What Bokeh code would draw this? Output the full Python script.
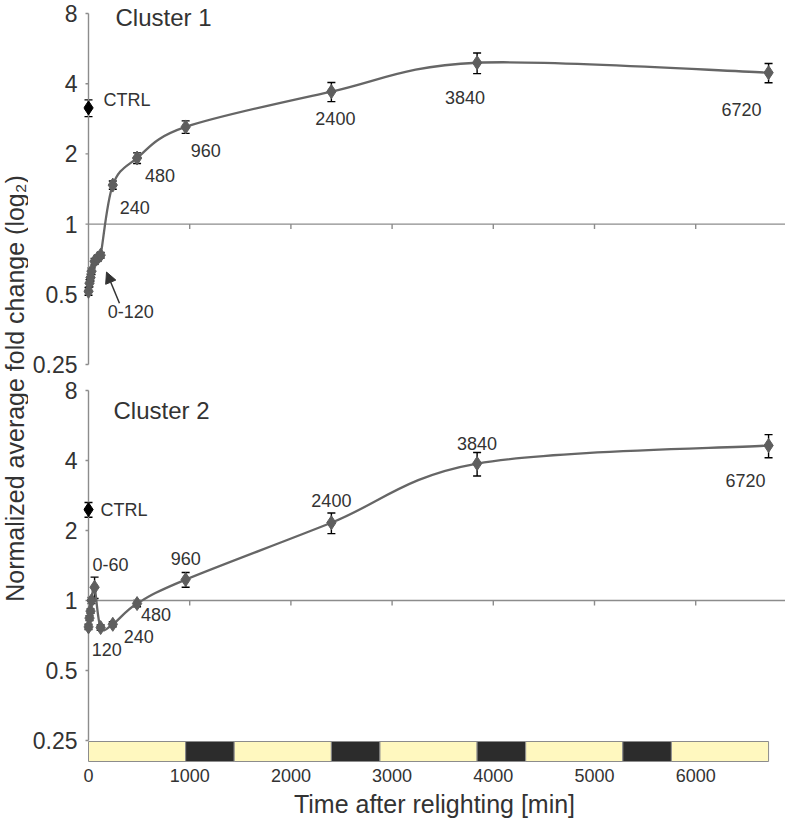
import math
from bokeh.plotting import figure
from bokeh.layouts import row, column
from bokeh.models import (Range1d, FixedTicker, CustomJSTickFormatter, Whisker, TeeHead,
                          ColumnDataSource, Arrow, NormalHead, LinearScale)
from bokeh.core.properties import value
from bokeh.embed import file_html
from bokeh.resources import INLINE

# ---------------- data ----------------
y_ticks = [0.25, 0.5, 1, 2, 4, 8]
x_ticks = [0, 1000, 2000, 3000, 4000, 5000, 6000]

c1_time = [0, 10, 20, 30, 60, 90, 120, 240, 480, 960, 2400, 3840, 6720]
c1_fold = [0.515, 0.558, 0.59, 0.628, 0.693, 0.714, 0.736, 1.47, 1.92, 2.61, 3.70, 4.92, 4.46]
c1_err = [0.02, 0.02, 0.02, 0.02, 0.02, 0.02, 0.02, 0.06, 0.10, 0.16, 0.35, 0.50, 0.42]
c1_ctrl = 3.15
c1_ctrl_err = 0.26

c2_time = [0, 10, 20, 30, 60, 120, 240, 480, 960, 2400, 3840, 6720]
c2_fold = [0.77, 0.84, 0.90, 1.00, 1.14, 0.765, 0.79, 0.97, 1.23, 2.16, 3.88, 4.64]
c2_err = [0.02, 0.02, 0.02, 0.03, 0.12, 0.02, 0.02, 0.03, 0.09, 0.22, 0.45, 0.53]
c2_ctrl = 2.46
c2_ctrl_err = 0.18

phase_start = [0, 960, 1440, 2400, 2880, 3840, 4320, 5280, 5760]
phase_end = [960, 1440, 2400, 2880, 3840, 4320, 5280, 5760, 6720]
phase_kind = ["light", "dark", "light", "dark", "light", "dark", "light", "dark", "light"]

c1_label_times = [240, 480, 960, 2400, 3840, 6720]
c2_label_times = [120, 240, 480, 960, 2400, 3840, 6720]

# ---------------- layout / style ----------------
FONT = "Liberation Sans"
TXT = "#333333"
AXC = "#8c8c8c"
PT = "#5e5e5e"
W_TITLE = 28
MAIN_W = 785 - W_TITLE
BORDER_L = 55
PX_PER_MIN = 0.1012
frame_w = MAIN_W - BORDER_L
x_start = -5 / PX_PER_MIN
x_end = x_start + frame_w / PX_PER_MIN
xr = Range1d(x_start, x_end)
TOP_H = 377
MID_FRAME_H = 386
MID_H = 447

# offsets (px) of labels relative to their points
c1_off = {240: (22, 22), 480: (23, 17), 960: (20, 24), 2400: (4, 27), 3840: (-12, 35), 6720: (-27, 37)}
c2_off = {120: (6, 22), 240: (26, 12), 480: (19, 11), 960: (0, -21), 2400: (0, -22), 3840: (0, -20), 6720: (-23, 35)}


def smooth(ts, vs):
    ly = [math.log2(v) for v in vs]
    P = list(zip(ts, ly))
    n = len(P)
    out = {k: [] for k in ["x0", "y0", "x1", "y1", "cx0", "cy0", "cx1", "cy1"]}
    for i in range(n - 1):
        pp = P[i - 1] if i > 0 else P[i]
        p0, p1 = P[i], P[i + 1]
        pn = P[i + 2] if i + 2 < n else P[i + 1]
        c0 = (p0[0] + (p1[0] - pp[0]) / 6, p0[1] + (p1[1] - pp[1]) / 6)
        c1 = (p1[0] - (pn[0] - p0[0]) / 6, p1[1] - (pn[1] - p0[1]) / 6)
        out["x0"].append(p0[0]); out["y0"].append(2 ** p0[1])
        out["x1"].append(p1[0]); out["y1"].append(2 ** p1[1])
        out["cx0"].append(c0[0]); out["cy0"].append(2 ** c0[1])
        out["cx1"].append(c1[0]); out["cy1"].append(2 ** c1[1])
    return out


def panel(height, frame_h, top8, ppd, times, folds, errs, ctrl, ctrl_err):
    y_hi = 8 * 2 ** (top8 / ppd)
    y_lo = 8 * 2 ** (-(frame_h - top8) / ppd)
    p = figure(width=MAIN_W, height=height, x_range=xr, y_range=Range1d(y_lo, y_hi),
               y_axis_type="log", toolbar_location=None, output_backend="svg",
               min_border=0, min_border_left=BORDER_L, min_border_bottom=height - frame_h,
               outline_line_color=None, background_fill_color="white")
    p.grid.visible = False
    ya = p.yaxis[0]
    ya.ticker = FixedTicker(ticks=y_ticks, minor_ticks=[])
    ya.formatter = CustomJSTickFormatter(code="return String(tick);")
    ya.axis_line_color = None
    ya.major_tick_line_color = None
    ya.minor_tick_line_color = None
    ya.major_tick_out = 0
    ya.major_tick_in = 0
    ya.minor_tick_out = 0
    ya.minor_tick_in = 0
    ya.major_label_standoff = 6
    ya.major_label_text_font = FONT
    ya.major_label_text_font_size = "23px"
    ya.major_label_text_color = TXT

    n = len(y_ticks)
    p.segment(x0=[0], y0=[y_ticks[0]], x1=[0], y1=[y_ticks[-1]], line_color=AXC, line_width=1.4)
    p.segment(x0=[0] * n, y0=y_ticks, x1=[-3 / PX_PER_MIN] * n, y1=y_ticks, line_color=AXC, line_width=1.4)
    p.segment(x0=[0], y0=[1], x1=[x_end], y1=[1], line_color=AXC, line_width=1.4)
    m = len(x_ticks) - 1
    p.segment(x0=x_ticks[1:], y0=[1] * m, x1=x_ticks[1:], y1=[2 ** (-5 / ppd)] * m,
              line_color=AXC, line_width=1.4)

    src = ColumnDataSource(dict(t=times, lo=[v - e for v, e in zip(folds, errs)],
                                hi=[v + e for v, e in zip(folds, errs)]))
    csrc = ColumnDataSource(dict(t=[0], lo=[ctrl - ctrl_err], hi=[ctrl + ctrl_err]))
    for s in (src, csrc):
        p.add_layout(Whisker(source=s, base="t", lower="lo", upper="hi", dimension="height",
                             line_color="black", line_width=1.4,
                             upper_head=TeeHead(size=8, line_color="black", line_width=1.4),
                             lower_head=TeeHead(size=8, line_color="black", line_width=1.4)))
    b = smooth(times, folds)
    p.bezier(**b, line_color="#666666", line_width=2.3)
    p.scatter(times, folds, marker="diamond", size=14, fill_color=PT, line_color=PT)
    p.scatter([0], [ctrl], marker="diamond", size=14, fill_color="black", line_color="black")
    return p


# ---- top panel (Cluster 1)
top = panel(TOP_H, TOP_H, 13, 70.2, c1_time, c1_fold, c1_err, c1_ctrl, c1_ctrl_err)
top.xaxis.visible = False
lab = dict(x=[], y=[], text=[], dx=[], dy=[])
for t in c1_label_times:
    lab["x"].append(t); lab["y"].append(c1_fold[c1_time.index(t)]); lab["text"].append(str(t))
    lab["dx"].append(c1_off[t][0]); lab["dy"].append(c1_off[t][1])
top.text(x="x", y="y", text="text", x_offset="dx", y_offset="dy", source=ColumnDataSource(lab),
         text_font=value(FONT), text_font_size="18px", text_color=TXT,
         text_align="center", text_baseline="middle")
top.text(x=[0], y=[c1_ctrl], text=["CTRL"], x_offset=15, y_offset=-8, text_font=value(FONT),
         text_font_size="18px", text_color=TXT, text_align="left", text_baseline="middle")
top.text(x=[120], y=[c1_fold[c1_time.index(120)]], text=["0-120"], x_offset=30, y_offset=56,
         text_font=value(FONT), text_font_size="18px", text_color=TXT,
         text_align="center", text_baseline="middle")
top.add_layout(Arrow(end=NormalHead(size=11, fill_color="#333333", line_color="#333333"),
                     x_start=306, y_start=0.458, x_end=178, y_end=0.623,
                     line_color="#333333", line_width=1.5))
top.text(x=[0], y=[8], text=["Cluster 1"], x_offset=27, y_offset=4, text_font=value(FONT),
         text_font_size="24px", text_color=TXT, text_align="left", text_baseline="middle")

# ---- bottom panel (Cluster 2) + light/dark bar + x axis
mid = panel(MID_H, MID_FRAME_H, 13, 70.0, c2_time, c2_fold, c2_err, c2_ctrl, c2_ctrl_err)
mid.extra_y_ranges = {"bar": Range1d(-2 / 20, -2 / 20 + MID_FRAME_H / 20)}
mid.extra_y_scales = {"bar": LinearScale()}
colors = ["#fff8bf" if k == "light" else "#2c2c2c" for k in phase_kind]
mid.quad(left=phase_start, right=phase_end, bottom=0, top=1, fill_color=colors,
         line_color="#8c8c8c", line_width=1, y_range_name="bar")
xa = mid.xaxis[0]
xa.ticker = FixedTicker(ticks=x_ticks, minor_ticks=[])
xa.axis_line_color = None
xa.major_tick_line_color = None
xa.minor_tick_line_color = None
xa.major_tick_out = 0
xa.major_tick_in = 0
xa.minor_tick_out = 0
xa.minor_tick_in = 0
xa.major_label_standoff = 5
xa.major_label_text_font = FONT
xa.major_label_text_font_size = "18px"
xa.major_label_text_color = TXT
xa.axis_label = "Time after relighting [min]"
xa.axis_label_standoff = 5
xa.axis_label_text_font = FONT
xa.axis_label_text_font_size = "25px"
xa.axis_label_text_font_style = "normal"
xa.axis_label_text_color = TXT

lab2 = dict(x=[], y=[], text=[], dx=[], dy=[])
for t in c2_label_times:
    lab2["x"].append(t); lab2["y"].append(c2_fold[c2_time.index(t)]); lab2["text"].append(str(t))
    lab2["dx"].append(c2_off[t][0]); lab2["dy"].append(c2_off[t][1])
lab2["x"].append(60); lab2["y"].append(c2_fold[c2_time.index(60)]); lab2["text"].append("0-60")
lab2["dx"].append(16); lab2["dy"].append(-23)
mid.text(x="x", y="y", text="text", x_offset="dx", y_offset="dy", source=ColumnDataSource(lab2),
         text_font=value(FONT), text_font_size="18px", text_color=TXT,
         text_align="center", text_baseline="middle")
mid.text(x=[0], y=[c2_ctrl], text=["CTRL"], x_offset=12, y_offset=0, text_font=value(FONT),
         text_font_size="18px", text_color=TXT, text_align="left", text_baseline="middle")
mid.text(x=[0], y=[8], text=["Cluster 2"], x_offset=25, y_offset=20, text_font=value(FONT),
         text_font_size="24px", text_color=TXT, text_align="left", text_baseline="middle")

# ---- y-axis title strip
TOTAL_H = TOP_H + MID_H
tf = figure(width=W_TITLE, height=TOTAL_H, x_range=Range1d(0, W_TITLE), y_range=Range1d(0, TOTAL_H),
            toolbar_location=None, output_backend="svg", min_border=0,
            outline_line_color=None, x_axis_location=None, y_axis_location=None)
tf.grid.visible = False
tf.text(x=[14], y=[TOTAL_H - 388], text=["Normalized average fold change (log\u2082)"],
        angle=math.pi / 2, text_font=value(FONT), text_font_size="25px", text_color=TXT,
        text_align="center", text_baseline="middle")

layout = row(tf, column(top, mid))
open("out.html", "w").write(file_html(layout, INLINE))
